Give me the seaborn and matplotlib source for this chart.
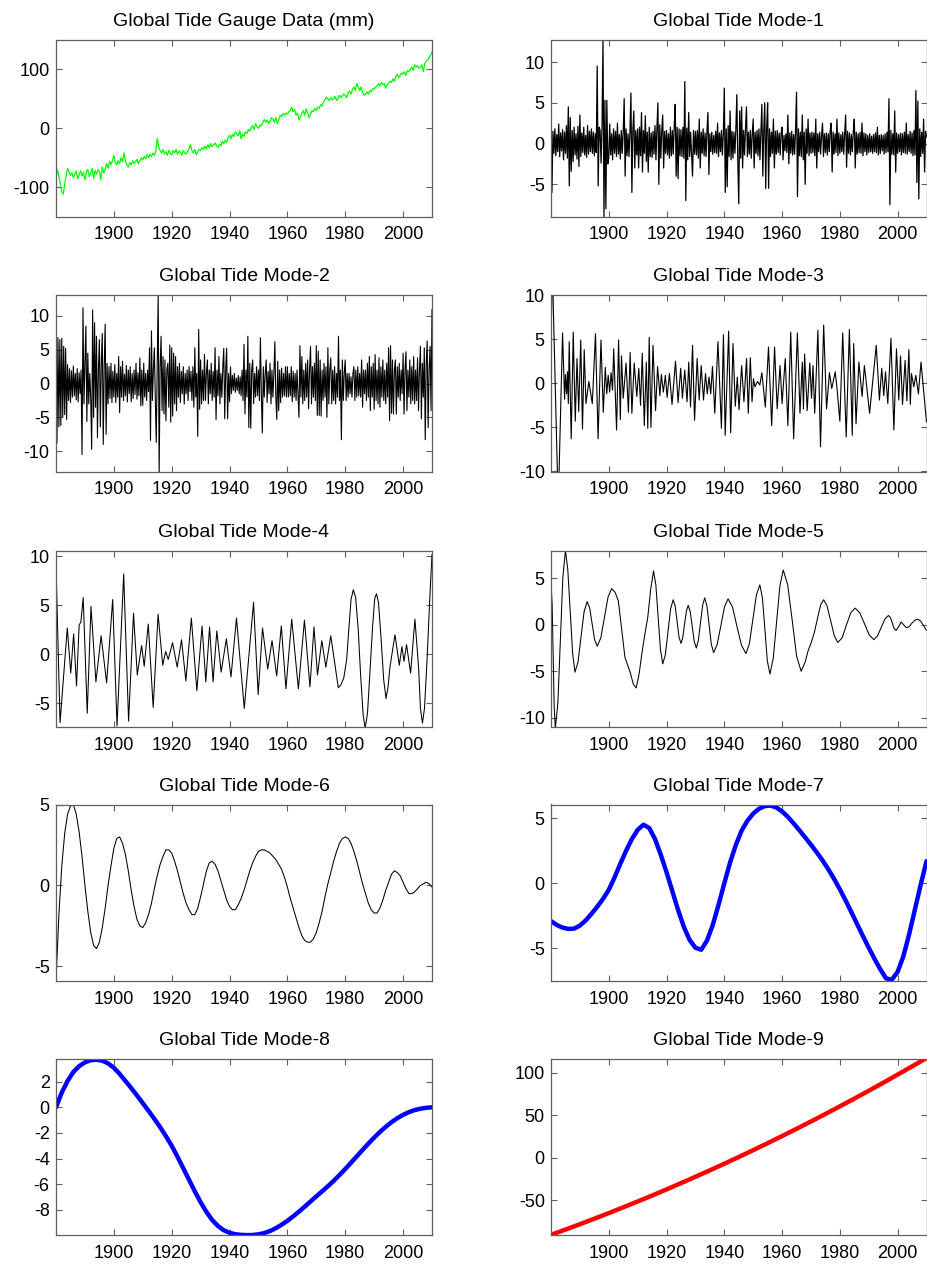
import numpy as np
import matplotlib
matplotlib.use("Agg")
import matplotlib.pyplot as plt
import seaborn as sns

# --- data ---

# time axes
years_half = np.arange(1880, 2010.001, 0.5)    # tide gauge record, two values per year
years_third = np.linspace(1880, 2010, 391)     # modes 1 and 2, three values per year
years_1 = np.arange(1880, 2011, 1)             # mode 6, yearly
years_2 = np.arange(1880, 2011, 2)             # modes 7 and 8
years_5 = np.arange(1880, 2010.001, 5)         # mode 9

# global tide gauge data (mm), rows of 5 years
gauge_mm = [
    -88, -70, -82, -95, -108, -112, -95, -80, -68, -74,
    -80, -76, -84, -78, -73, -86, -79, -72, -81, -75,
    -88, -74, -70, -82, -76, -68, -85, -72, -78, -70,
    -73, -88, -66, -76, -70, -60, -68, -56, -62, -55,
    -46, -58, -62, -55, -60, -50, -57, -42, -55, -62,
    -66, -58, -62, -55, -60, -57, -53, -60, -55, -50,
    -54, -48, -52, -45, -50, -44, -48, -42, -46, -40,
    -17, -32, -38, -42, -36, -44, -40, -46, -38, -43,
    -45, -38, -42, -36, -44, -39, -41, -46, -38, -42,
    -44, -40, -35, -28, -38, -42, -36, -45, -40, -36,
    -38, -33, -36, -30, -35, -28, -33, -26, -31, -28,
    -25, -30, -33, -27, -30, -22, -26, -20, -24, -16,
    -12, -18, -10, -14, -6, -9, -13, -4, -18, -10,
    -14, -6, -9, -2, -5, 2, 4, -2, 8, 2,
    0, 5, 4, 10, 15, 10, 14, 8, 12, 18,
    16, 10, 18, 8, 14, 22, 20, 25, 22, 26,
    24, 28, 30, 36, 28, 32, 22, 26, 14, 20,
    25, 30, 22, 33, 26, 18, 24, 30, 28, 34,
    30, 36, 34, 40, 38, 45, 48, 53, 50, 47,
    52, 48, 50, 54, 47, 50, 56, 52, 55, 58,
    56, 52, 60, 63, 58, 66, 70, 64, 76, 70,
    64, 70, 60, 56, 58, 62, 58, 64, 62, 68,
    66, 70, 72, 76, 72, 78, 74, 76, 68, 74,
    76, 80, 78, 84, 80, 88, 92, 86, 90, 94,
    92, 96, 90, 98, 96, 100, 104, 98, 108, 104,
    106, 102, 104, 108, 96, 110, 114, 116, 120, 124,
    130,
]

# mode 1, rows of 5 years
mode1 = [
    2.0, -6.0, 1.5, -1.2, 1.8, -1.5, 1.1, -1.0, 2.4, -1.6, 1.3, -0.9, 1.7, -2.0, 1.4,
    -1.2, 2.2, -1.8, 4.5, -5.2, 3.2, -3.4, 1.6, -2.2, 2.0, -1.4, 1.2, -1.9, 2.1, -2.8,
    3.5, -1.6, 1.3, -1.1, 2.0, -1.4, 1.0, -1.7, 2.2, -1.3, 1.5, -1.0, 1.8, -1.2, 1.4,
    -1.5, 1.2, -1.1, 9.5, -5.2, 2.0, 1.6, -2.4, 2.2, 12.7, -9.0, 5.3, -8.0, 5.3, -2.5,
    -1.8, 2.4, -1.4, 1.2, -2.0, 1.8, -1.2, 1.5, -1.6, 2.5, -1.3, 1.1, -1.9, 1.6, -1.2,
    1.4, 5.5, -4.0, 1.8, -1.5, 1.2, -1.6, 1.4, 6.2, -6.0, 1.5, 4.0, -3.0, 1.6, -1.4,
    1.8, -3.0, 2.0, -1.5, 3.8, -3.5, 1.6, -1.2, 3.4, -2.2, 1.4, -3.5, 2.0, -1.6, 1.3,
    -1.7, 1.5, -1.3, 2.2, -2.0, 1.8, 5.0, -5.0, 2.3, -1.8, 1.4, 3.5, -3.0, 1.5, -1.2,
    1.6, -1.4, 1.2, -1.8, 2.0, -1.5, 1.6, -1.3, 2.2, 4.8, -4.0, 2.0, -4.3, 1.8, -1.5,
    1.7, -1.6, 2.0, -1.8, 7.6, -7.0, 1.9, -2.0, 3.8, -1.6, 1.4, -1.2, -4.0, 1.6, -1.3,
    1.5, -1.4, 1.6, -1.8, 3.0, -3.0, 1.4, -1.2, 1.8, -1.5, 1.3, -1.6, 1.5, 3.8, -3.8,
    1.2, -1.0, 1.4, -1.3, 1.0, -1.1, 1.5, -1.2, 2.5, -1.6, 1.3, -1.0, 1.6, -1.4, 1.2,
    6.8, -6.0, 1.8, -5.3, 2.2, -1.6, 4.0, -2.0, 1.5, -1.8, 1.4, -1.2, 1.7, 6.0, -2.0,
    -7.4, 4.0, -1.8, 4.5, -3.0, 1.6, -1.4, 1.8, 4.5, -1.6, 1.4, -1.3, 1.6, -1.8, 1.2,
    3.0, -3.0, 1.4, -1.2, 1.6, -1.5, 1.8, -2.0, 1.4, 4.8, -4.0, 1.6, 5.0, -5.5, 2.0,
    5.0, -5.5, 1.8, -1.6, 1.4, -1.2, 3.0, -3.0, 1.5, -1.3, 1.6, -1.1, 1.3, -1.4, 1.2,
    2.0, -2.0, 1.0, -0.9, 1.2, -1.1, 3.5, -2.5, 1.3, -1.2, 1.5, -1.4, 1.1, -1.3, 1.6,
    6.3, -6.5, 1.8, -1.5, 1.4, -1.6, 3.5, -2.0, 1.4, -5.0, 1.8, -1.2, 3.0, -1.5, 1.3,
    -1.2, 1.4, -1.1, 1.3, -1.5, 3.0, -3.0, 1.2, -1.0, 1.4, -1.3, 1.0, 2.5, -1.6, 1.2,
    -1.1, 1.3, -1.4, 1.2, -1.0, 1.6, 2.5, -3.5, 1.4, -1.3, 1.2, -1.1, 3.0, -1.5, 1.3,
    -1.2, 1.1, -1.0, 1.4, -1.3, 1.2, 3.5, -2.9, 1.5, -1.2, 1.3, -1.4, 1.1, -1.0, 1.5,
    3.0, -3.0, 1.4, -1.3, 1.2, -1.1, 1.4, -1.2, 2.5, -1.5, 1.3, -1.0, 1.2, -1.4, 1.0,
    -1.1, 1.2, -1.0, 0.9, -1.2, 1.1, -1.0, 1.3, -1.1, 2.0, -1.4, 1.0, -1.2, 1.1, -0.9,
    1.0, -1.3, 1.2, -1.1, 1.4, -1.0, 5.5, -7.5, 1.6, -1.3, 1.2, -1.4, 4.0, -3.5, 1.3,
    -1.2, 1.1, -1.0, 1.3, -1.4, 1.2, -1.1, 1.4, -1.2, 2.5, -1.3, 1.1, -1.0, 1.5, -1.2,
    1.3, -1.5, 1.6, -1.4, 6.5, -4.8, 5.2, -6.8, 1.8, -1.6, 1.4, -1.2, 3.0, -3.5, 1.5,
    0.8,
]

# mode 2, rows of 5 years
mode2 = [
    10.5, -8.8, 6.8, -6.4, 6.5, -6.2, 6.7, -5.0, 5.5, -4.6, 5.2, -5.3, 2.8, -2.5, 2.2,
    -2.8, 1.9, -2.0, 2.6, -1.8, 1.5, -2.4, 2.2, -2.7, 1.6, -1.5, 2.0, -10.5, 11.2, -3.0,
    3.0, 8.5, -5.6, 4.5, -3.0, 1.5, -2.0, -9.7, 10.9, -5.0, 9.0, -3.5, 7.0, -8.0, 2.0,
    6.5, -6.4, 3.0, 7.4, -9.0, 2.5, 8.8, -7.5, 3.0, -3.0, 2.5, -2.2, 3.0, -2.8, 1.8,
    -2.0, 2.8, -2.8, 1.5, -2.0, 4.0, -4.3, 2.5, -2.0, 3.3, -2.5, 1.4, -1.8, 2.7, -2.7,
    2.0, -1.5, 2.5, -2.7, 1.5, -2.2, 2.0, -1.6, 3.0, -2.3, 1.6, -1.8, 3.8, -3.3, 2.0,
    -3.2, 3.0, -2.0, 1.5, -2.5, 2.0, -1.2, 5.3, -8.4, 7.8, -2.5, 2.0, 5.3, -2.2, -8.7,
    3.0, 13.2, -13.2, 2.5, 7.0, -4.0, 4.0, -4.5, 3.5, -5.5, 2.0, 3.0, -3.5, 5.7, -5.7,
    5.3, -4.8, 4.5, -3.0, 4.0, -4.0, 2.5, -2.0, 3.0, -2.8, 1.8, -1.5, 2.5, -3.0, 1.5,
    -1.5, 2.0, -2.5, 2.5, -1.2, 1.8, -2.5, 2.5, -3.5, 5.3, -2.0, 1.5, -7.8, 8.0, -3.8,
    3.5, -3.0, 2.0, -2.5, 4.3, -2.5, 1.5, 3.5, -3.0, 2.0, -1.5, 3.0, -2.5, 1.8, -2.0,
    5.3, -5.3, 2.0, -1.8, 4.0, -3.0, 1.5, -2.0, 2.5, 5.2, -5.2, 2.0, 5.2, -5.2, 1.5,
    -2.7, 2.5, -1.5, 1.2, -1.0, 1.5, -1.3, 0.8, -1.0, 1.2, -1.5, 1.0, -1.8, 2.0, -2.5,
    5.8, -4.5, 2.0, -2.0, 7.0, -6.5, 3.0, -6.6, 2.0, 3.5, -3.0, 1.5, -2.0, 2.5, -1.8,
    2.0, -2.5, 6.8, -1.5, -7.3, 2.5, -2.0, 1.5, 3.5, -2.8, 1.8, -1.5, 3.0, -3.0, 2.0,
    -2.0, 1.5, 6.2, -2.0, -5.3, 3.3, -4.0, 2.0, -2.8, 2.3, -2.0, 1.5, -1.8, 2.5, -2.0,
    2.5, -2.0, 1.5, -1.8, 2.5, -2.7, 1.8, -2.0, 1.5, -2.5, 2.0, -1.5, -5.0, 5.6, -2.0,
    4.0, -3.0, 2.0, -2.5, 3.0, -2.0, 3.5, -3.7, 2.0, 5.5, -3.0, 2.5, -2.0, 3.0, -2.5,
    5.6, -4.7, 4.8, -4.7, 3.5, -4.8, 2.0, -2.5, 3.0, -2.0, 2.5, -5.0, 5.3, -3.0, 2.0,
    3.8, -3.0, 2.0, -2.5, 2.5, -3.0, 1.5, -2.0, 7.0, -2.5, 2.0, -8.3, 3.5, -2.5, 1.5,
    3.5, -2.5, 1.5, -2.0, 1.5, -1.5, 1.0, -2.0, 1.5, 2.5, -2.5, 2.0, -2.0, 2.5, -1.8,
    1.5, -2.0, 3.5, -3.5, 2.0, -1.5, 2.0, -2.5, 3.0, -2.0, 4.0, -4.0, 2.5, -2.0, 3.0,
    -3.8, 4.3, -2.5, 2.0, -3.0, 3.8, -3.5, 2.5, -2.0, 3.5, -2.5, 2.0, -3.0, 3.0, -2.0,
    5.3, -5.5, 5.6, -4.4, 3.5, -4.5, 2.0, 3.5, -4.5, 2.5, -2.0, 3.0, -2.5, 2.0, -1.5,
    4.5, -4.5, 2.0, 4.7, -4.0, 2.0, -2.0, 3.5, -3.0, 2.5, -2.5, 4.0, -3.0, 2.0, -2.5,
    3.8, -4.0, 2.0, 5.5, -5.2, 3.0, -2.0, 5.3, -8.3, 3.0, 6.3, -6.5, 2.0, 5.5, -4.0,
    11.0,
]

# mode 3: turning points (year, value)
mode3 = [
    (1880.0, 3.0), (1880.4, 14.0), (1882.5, -14.0), (1884.0, 5.7), (1884.7, -1.8),
    (1885.0, 1.0), (1885.4, -1.2), (1885.7, 1.3), (1886.0, -2.3), (1886.3, 4.7),
    (1887.0, -6.3), (1887.7, 5.8), (1888.4, -4.3), (1889.0, 2.8), (1889.6, -3.2),
    (1890.3, 4.9), (1890.9, -5.2), (1891.5, 3.8), (1892.1, -2.3), (1893.1, 0.2),
    (1894.3, -2.3), (1895.4, 5.6), (1896.3, -6.3), (1897.3, 4.9), (1898.1, -3.3),
    (1898.8, 1.8), (1899.3, -1.2), (1899.8, 0.9), (1900.3, -1.0), (1900.8, 1.2),
    (1901.3, -0.8), (1901.7, 3.9), (1902.7, -5.3), (1903.4, 4.9), (1904.0, -4.1),
    (1904.4, 3.1), (1905.0, -1.7), (1906.0, 2.3), (1906.8, -3.3), (1907.4, 3.5),
    (1908.0, -3.4), (1908.8, 2.3), (1909.7, -1.5), (1910.4, 1.7), (1911.0, -2.5),
    (1911.6, 3.4), (1912.3, -4.8), (1913.0, 2.4), (1913.5, -5.1), (1914.0, 5.2),
    (1914.6, -5.0), (1915.3, 4.3), (1916.2, -3.1), (1916.9, 1.9), (1917.7, -1.4),
    (1918.2, 1.0), (1918.9, -1.0), (1919.6, 0.9), (1920.2, -1.6), (1921.0, 1.1),
    (1921.9, -2.4), (1923.1, 2.5), (1924.0, -2.2), (1924.9, 1.7), (1925.5, -1.7),
    (1926.3, 1.5), (1927.1, -2.1), (1927.7, 2.4), (1928.3, -2.7), (1929.0, 4.3),
    (1929.7, -4.2), (1930.6, 2.8), (1931.3, -1.9), (1932.0, 2.0), (1932.8, -1.9),
    (1933.5, 1.1), (1934.1, -1.2), (1934.7, 0.7), (1935.3, -1.2), (1935.9, 1.9),
    (1936.7, -3.4), (1937.8, 4.7), (1939.0, -5.1), (1939.7, 5.5), (1940.3, -5.9),
    (1941.5, 5.9), (1942.2, -5.6), (1943.0, 4.5), (1943.8, -2.6), (1944.5, 0.7),
    (1945.1, -3.0), (1946.0, 2.0), (1946.8, -2.1), (1947.7, 2.8), (1948.3, -3.4),
    (1949.0, 2.9), (1949.6, -2.1), (1950.1, 0.5), (1950.6, -0.4), (1951.5, 0.2),
    (1952.3, -0.2), (1953.0, 1.2), (1954.2, -2.7), (1955.3, 4.1), (1956.4, -4.8),
    (1957.4, 4.1), (1958.3, -2.9), (1959.3, 2.0), (1960.0, -2.3), (1961.1, 2.8),
    (1962.0, -4.8), (1963.0, 5.8), (1964.0, -6.3), (1965.3, 5.7), (1966.2, -3.4),
    (1967.0, 2.4), (1967.4, -2.9), (1967.8, 3.3), (1968.7, -3.1), (1969.6, 2.3),
    (1970.2, -1.7), (1970.7, 2.0), (1971.3, -3.4), (1972.4, 6.0), (1973.3, -7.2),
    (1974.4, 6.6), (1975.4, -2.9), (1976.4, 1.2), (1977.2, -0.6), (1978.4, 1.3),
    (1979.0, -0.5), (1980.0, -4.3), (1981.0, 5.7), (1982.2, -6.1), (1983.3, 6.1),
    (1984.3, -5.9), (1984.8, 4.5), (1985.6, -4.6), (1986.6, 2.4), (1987.7, -1.5),
    (1988.5, 2.0), (1990.3, -3.4), (1992.6, 4.3), (1993.7, -1.9), (1994.5, 1.7),
    (1995.2, -1.4), (1995.8, 1.3), (1996.6, -2.3), (1997.7, 5.1), (1998.7, -5.3),
    (1999.6, 3.9), (2000.4, -1.9), (2001.0, 3.1), (2001.7, -2.4), (2002.6, 2.6),
    (2003.2, -2.0), (2003.9, 3.8), (2004.4, -2.4), (2004.8, 1.1), (2005.6, -0.4),
    (2006.3, 0.9), (2007.2, -1.2), (2008.1, 2.4), (2010.0, -4.4),
]

# mode 4: turning points (year, value)
mode4 = [
    (1880.0, 9.1), (1881.4, -6.95), (1883.9, 2.7), (1885.1, -1.9), (1886.1, 2.1),
    (1887.1, -3.2), (1888.0, 3.0), (1888.6, 3.3), (1889.4, 5.8), (1890.8, -6.0),
    (1892.1, 4.9), (1893.8, -2.8), (1895.6, 1.9), (1897.5, -2.9), (1899.6, 5.6),
    (1901.1, -7.3), (1903.4, 8.2), (1905.1, -6.8), (1906.8, 4.2), (1908.1, -2.1),
    (1909.6, 0.9), (1910.5, -1.2), (1911.9, 3.1), (1913.6, -5.4), (1915.3, 4.1),
    (1916.9, -1.1), (1917.9, 0.3), (1918.8, -0.5), (1920.3, 1.2), (1921.9, -1.3),
    (1923.4, 1.5), (1924.9, -2.7), (1926.8, 3.7), (1928.7, -3.7), (1930.5, 2.9),
    (1931.8, -2.8), (1933.1, 2.8), (1934.3, -2.8), (1935.6, 2.4), (1937.1, -1.8),
    (1938.9, 1.6), (1940.5, -2.3), (1942.4, 3.7), (1945.1, -5.5), (1948.3, 5.3),
    (1949.9, -4.1), (1951.4, 2.7), (1953.2, -1.5), (1954.7, 1.4), (1956.3, -2.2),
    (1957.9, 2.9), (1959.5, -3.5), (1961.5, 3.6), (1963.8, -3.5), (1965.9, 3.5),
    (1967.8, -3.3), (1969.2, 2.8), (1970.4, -2.1), (1971.9, 1.4), (1973.3, -1.3),
    (1975.0, 1.9), (1977.6, -3.4), (1978.5, -3.1), (1979.5, -2.4), (1980.5, -0.5),
    (1981.3, 2.8), (1982.0, 5.6), (1982.8, 6.6), (1983.6, 5.8), (1984.5, 2.5),
    (1985.3, -2.0), (1986.2, -6.2), (1986.9, -7.5), (1987.7, -6.0), (1988.6, -1.5),
    (1989.5, 3.0), (1990.2, 5.7), (1990.8, 6.2), (1991.5, 5.3), (1992.4, 1.6),
    (1993.3, -2.6), (1994.1, -4.5), (1994.8, -3.3), (1995.5, -1.2), (1997.2, 2.0),
    (1998.7, -1.1), (1999.6, 0.8), (2000.3, -0.7), (2001.2, 1.0), (2002.6, -1.9),
    (2004.1, 3.6), (2005.4, -1.5), (2006.0, -5.5), (2006.7, -7.0), (2007.4, -5.5),
    (2008.3, -0.5), (2009.2, 5.5), (2010.0, 10.2),
]

# mode 5: (year, value)
mode5 = [
    (1880.0, 4.6), (1880.4, 2.2), (1880.75, -3.3), (1881.1, -8.8), (1881.5, -11.2),
    (1882.4, -8.3), (1883.25, -1.6), (1884.1, 5.1), (1885.0, 8.0), (1885.8, 6.0),
    (1886.65, 1.5), (1887.5, -3.1), (1888.3, -5.1), (1889.35, -4.0), (1890.4, -1.3),
    (1891.45, 1.4), (1892.5, 2.5), (1893.4, 1.8), (1894.25, 0.1), (1895.1, -1.6),
    (1896.0, -2.3), (1897.25, -1.4), (1898.5, 0.8), (1899.75, 3.0), (1901.0, 3.9),
    (1902.2, 3.5), (1903.3, 2.6), (1904.5, -0.6), (1905.6, -3.5), (1907.5, -5.2),
    (1908.5, -6.4), (1909.5, -6.8), (1910.5, -5.3), (1911.5, -3.0), (1912.5, -1.0),
    (1913.5, 0.8), (1914.5, 3.8), (1915.5, 5.8), (1916.3, 4.3), (1917.1, 0.8),
    (1917.9, -2.7), (1918.7, -4.2), (1919.6, -3.2), (1920.5, -0.8), (1921.4, 1.7),
    (1922.3, 2.7), (1923.0, 2.0), (1923.65, 0.4), (1924.3, -1.3), (1925.0, -2.0),
    (1925.6, -1.4), (1926.25, 0.1), (1926.9, 1.5), (1927.5, 2.1), (1928.2, 1.4),
    (1928.9, -0.2), (1929.6, -1.8), (1930.3, -2.5), (1931.0, -1.7), (1931.75, 0.2),
    (1932.5, 2.1), (1933.2, 2.9), (1934.0, 2.0), (1934.75, 0.0), (1935.5, -2.1),
    (1936.3, -3.0), (1937.55, -2.1), (1938.8, -0.1), (1940.05, 1.9), (1941.3, 2.8),
    (1942.85, 1.9), (1944.4, -0.2), (1945.95, -2.2), (1947.5, -3.1), (1948.7, -2.0),
    (1949.9, 0.6), (1951.1, 3.2), (1952.3, 4.3), (1953.2, 2.9), (1954.05, -0.5),
    (1954.9, -3.9), (1955.8, -5.3), (1956.95, -3.6), (1958.1, 0.3), (1959.25, 4.2),
    (1960.4, 5.9), (1961.95, 4.3), (1963.5, 0.5), (1965.05, -3.4), (1966.6, -5.0),
    (1968.0, -4.0), (1969.0, -2.8), (1970.0, -2.0), (1971.2, -0.8), (1972.4, 0.9),
    (1973.4, 2.2), (1974.4, 2.7), (1975.6, 2.0), (1976.85, 0.4), (1978.1, -1.2),
    (1979.3, -1.9), (1980.8, -1.4), (1982.3, 0.0), (1983.8, 1.3), (1985.3, 1.8),
    (1986.9, 1.3), (1988.55, 0.1), (1990.2, -1.1), (1991.8, -1.6), (1993.05, -1.2),
    (1994.3, -0.3), (1995.55, 0.6), (1996.8, 1.0), (1997.5, 0.8), (1998.15, 0.2),
    (1998.8, -0.4), (1999.5, -0.6), (2000.35, -0.2), (2001.2, 0.3), (2002.1, 0.0),
    (2003.0, -0.3), (2004.0, -0.2), (2005.0, 0.2), (2006.0, 0.5), (2007.0, 0.6),
    (2008.0, 0.4), (2009.0, -0.1), (2010.0, -0.6),
]

# mode 6, yearly, rows of 10 years
mode6 = [
    -5.9, -1.8, 1.2, 3.2, 4.4, 4.9, 5.0, 4.4, 3.3, 1.8,
    0.0, -1.6, -2.9, -3.7, -3.9, -3.5, -2.6, -1.4, 0.0, 1.2,
    2.3, 2.9, 3.0, 2.6, 1.9, 0.9, -0.3, -1.3, -2.1, -2.5,
    -2.6, -2.3, -1.8, -1.1, -0.2, 0.6, 1.3, 1.8, 2.2, 2.2,
    2.0, 1.5, 0.9, 0.2, -0.5, -1.1, -1.5, -1.8, -1.8, -1.4,
    -0.7, 0.1, 0.9, 1.4, 1.5, 1.3, 0.9, 0.3, -0.3, -0.9,
    -1.3, -1.5, -1.5, -1.2, -0.8, -0.3, 0.3, 0.9, 1.4, 1.8,
    2.1, 2.2, 2.2, 2.1, 2.0, 1.8, 1.6, 1.3, 1.0, 0.5,
    -0.1, -0.8, -1.4, -2.0, -2.6, -3.1, -3.4, -3.5, -3.5, -3.3,
    -2.9, -2.3, -1.6, -0.7, 0.1, 0.8, 1.5, 2.1, 2.6, 2.9,
    3.0, 2.9, 2.6, 2.1, 1.5, 0.8, 0.1, -0.5, -1.1, -1.5,
    -1.7, -1.7, -1.4, -0.9, -0.3, 0.2, 0.7, 0.9, 0.8, 0.6,
    0.2, -0.2, -0.5, -0.5, -0.4, -0.2, 0.0, 0.1, 0.2, 0.1,
    -0.1,
]

# mode 7, every 2 years, rows of 20 years
mode7 = [
    -2.9, -3.2, -3.4, -3.5, -3.48, -3.25, -2.85, -2.35, -1.8, -1.2,
    -0.5, 0.45, 1.5, 2.5, 3.4, 4.1, 4.5, 4.25, 3.4, 2.2,
    0.85, -0.6, -2.05, -3.35, -4.35, -4.95, -5.1, -4.4, -3.2, -1.65,
    0.0, 1.6, 2.95, 4.05, 4.8, 5.35, 5.72, 5.93, 5.97, 5.82,
    5.52, 5.1, 4.6, 4.07, 3.52, 2.96, 2.38, 1.76, 1.08, 0.34,
    -0.46, -1.32, -2.22, -3.14, -4.06, -4.94, -5.8, -6.6, -7.3, -7.4,
    -6.8, -5.6, -3.9, -2.0, -0.1, 1.7,
]

# mode 8, every 2 years, rows of 20 years
mode8 = [
    0.0, 1.15, 2.05, 2.75, 3.2, 3.5, 3.67, 3.7, 3.63, 3.42,
    3.08, 2.6, 2.05, 1.5, 0.92, 0.32, -0.28, -0.9, -1.55, -2.25,
    -3.0, -3.85, -4.75, -5.65, -6.55, -7.4, -8.15, -8.78, -9.25, -9.58,
    -9.78, -9.89, -9.94, -9.96, -9.95, -9.9, -9.8, -9.64, -9.42, -9.15,
    -8.84, -8.5, -8.13, -7.74, -7.34, -6.94, -6.55, -6.15, -5.73, -5.28,
    -4.81, -4.32, -3.82, -3.32, -2.83, -2.36, -1.92, -1.52, -1.16, -0.85,
    -0.59, -0.38, -0.22, -0.11, -0.04, 0.0,
]

# mode 9 (trend), every 5 years
mode9 = [
    -90.8, -84.6, -78.3, -71.8, -65.2, -58.4, -51.5, -44.5, -37.3, -29.9,
    -22.4, -14.8, -7.0, 0.9, 9.0, 17.2, 25.6, 34.1, 42.8, 51.6,
    60.6, 69.7, 79.0, 88.4, 98.0, 107.7, 117.5,
]

m3_t, m3_v = np.array(mode3).T
m4_t, m4_v = np.array(mode4).T
m5_t, m5_v = np.array(mode5).T

# (title, x, y, colour, line width, y limits, y ticks)
panels = [
    ("Global Tide Gauge Data (mm)", years_half, gauge_mm, "#00ff00", 0.9, (-150, 150), [-100, 0, 100]),
    ("Global Tide Mode-1", years_third, mode1, "black", 0.9, (-8.95, 12.7), [-5, 0, 5, 10]),
    ("Global Tide Mode-2", years_third, mode2, "black", 0.8, (-13.0, 13.1), [-10, -5, 0, 5, 10]),
    ("Global Tide Mode-3", m3_t, m3_v, "black", 0.8, (-10, 10), [-10, -5, 0, 5, 10]),
    ("Global Tide Mode-4", m4_t, m4_v, "black", 0.75, (-7.4, 10.6), [-5, 0, 5, 10]),
    ("Global Tide Mode-5", m5_t, m5_v, "black", 0.75, (-11, 8), [-10, -5, 0, 5]),
    ("Global Tide Mode-6", years_1, mode6, "black", 0.75, (-5.9, 5.0), [-5, 0, 5]),
    ("Global Tide Mode-7", years_2, mode7, "#0000ff", 3.2, (-7.5, 6.05), [-5, 0, 5]),
    ("Global Tide Mode-8", years_2, mode8, "#0000ff", 3.2, (-9.95, 3.8), [-8, -6, -4, -2, 0, 2]),
    ("Global Tide Mode-9", years_5, mode9, "#ff0000", 3.2, (-91, 117), [-50, 0, 50, 100]),
]

# --- style ---
sns.set_style("ticks")
plt.rcParams['font.family'] = ['Liberation Sans', 'DejaVu Sans']
plt.rcParams['axes.unicode_minus'] = False
plt.rcParams['text.color'] = 'black'

W, H = 927, 1266
fig = plt.figure(figsize=(W / 100, H / 100), dpi=100)

# layout in pixels, measured on the reference
row_tops = [40, 295, 550.5, 804.5, 1058.5]
ax_h = 176.5
col_left = [56, 551]
col_w = [376, 375.5]
spine_grey = "#5f5f5f"

for i, (title, x, y, color, lw, ylim, yticks) in enumerate(panels):
    row, col = divmod(i, 2)
    rect = [col_left[col] / W, 1 - (row_tops[row] + ax_h) / H, col_w[col] / W, ax_h / H]
    ax = fig.add_axes(rect)
    sns.lineplot(x=np.asarray(x, dtype=float), y=np.asarray(y, dtype=float), ax=ax,
                 color=color, linewidth=lw, estimator=None, sort=False)
    ax.set_xlim(1880, 2010)
    ax.set_ylim(*ylim)
    ax.set_xticks([1900, 1920, 1940, 1960, 1980, 2000])
    ax.set_yticks(yticks)
    ax.set_xlabel("")
    ax.set_ylabel("")
    ax.tick_params(direction="in", top=True, right=True, length=4, width=0.8,
                   color=spine_grey, labelsize=13, labelcolor="black")
    ax.tick_params(axis="x", pad=7)
    ax.tick_params(axis="y", pad=4.5)
    for s in ax.spines.values():
        s.set_visible(True)
        s.set_color(spine_grey)
        s.set_linewidth(0.9)
    ax.set_title(title, fontsize=14, pad=10, color="black")

fig.savefig("out.png", dpi=100)
